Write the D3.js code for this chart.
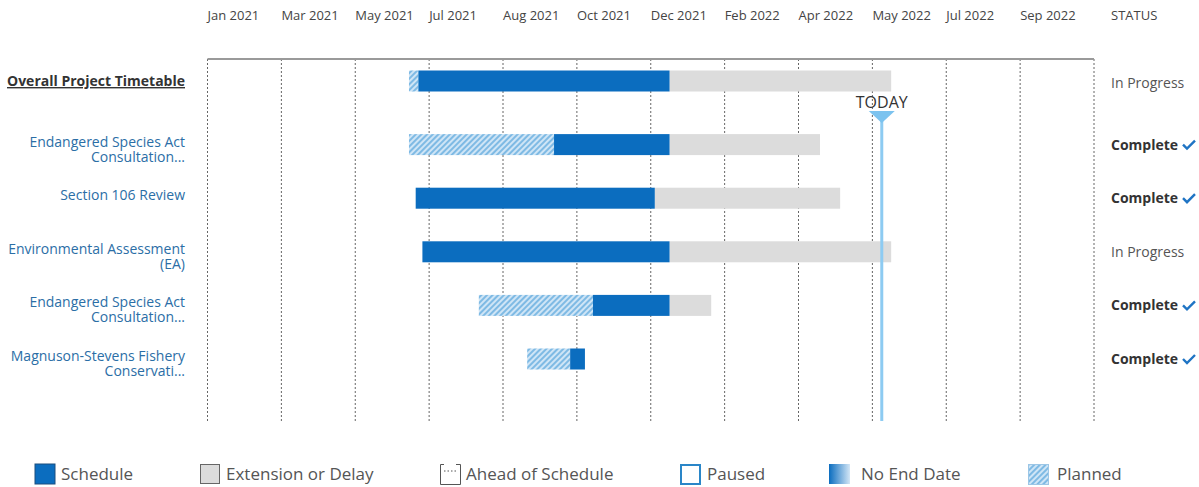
<!DOCTYPE html>
<html>
<head>
<meta charset="utf-8">
<script src="https://cdn.jsdelivr.net/npm/d3@7"></script>
<style>
  html, body { margin: 0; padding: 0; background: #fff; }
  svg { display: block; font-family: "Open Sans", "Noto Sans", sans-serif; }
</style>
</head>
<body>
<div id="gantt"></div>
<script>
// rows, top to bottom
const taskLabels = [
  ["Overall Project Timetable"],
  ["Endangered Species Act", "Consultation..."],
  ["Section 106 Review"],
  ["Environmental Assessment", "(EA)"],
  ["Endangered Species Act", "Consultation..."],
  ["Magnuson-Stevens Fishery", "Conservati..."]
];
const plannedStart  = ["2021-06-19", "2021-06-19", null, null, "2021-08-10", "2021-09-15"];
const scheduleStart = ["2021-06-26", "2021-10-05", "2021-06-24", "2021-06-29", "2021-11-03", "2021-10-17"];
const scheduleEnd   = ["2021-12-30", "2021-12-30", "2021-12-19", "2021-12-30", "2021-12-30", "2021-10-28"];
const delayEnd      = ["2022-06-13", "2022-04-21", "2022-05-06", "2022-06-13", "2022-01-30", null];
const statuses      = ["In Progress", "Complete", "Complete", "In Progress", "Complete", "Complete"];

// axis ticks (grid lines); the last one carries no label
const tickDates = ["2021-01-20", "2021-03-16", "2021-05-10", "2021-07-04", "2021-08-28", "2021-10-22",
  "2021-12-16", "2022-02-09", "2022-04-05", "2022-05-30", "2022-07-24", "2022-09-17", "2022-11-11"];
const todayDate = "2022-06-06";

const legendItems = ["Schedule", "Extension or Delay", "Ahead of Schedule", "Paused", "No End Date", "Planned"];

const W = 1199, H = 487;
const blue = "#0b6dbf", grey = "#dcdcdc";
const parse = d3.utcParse("%Y-%m-%d");
const fmt = d3.utcFormat("%b %Y");
const ticks = tickDates.map(parse);

const x = d3.scaleUtc()
  .domain([ticks[0], ticks[ticks.length - 1]])
  .range([207.5, 1094]);

const gridTop = 59, gridBottom = 421, barH = 21, overallLift = 10;
const y = d3.scalePoint()
  .domain(d3.range(taskLabels.length))
  .range([91, 359]);
const rowY = (i) => y(i) - (i === 0 ? overallLift : 0);

const svg = d3.select("#gantt").append("svg")
  .attr("width", W).attr("height", H);

const defs = svg.append("defs");
const hatch = defs.append("pattern")
  .attr("id", "hatch")
  .attr("patternUnits", "userSpaceOnUse")
  .attr("width", 4).attr("height", 4)
  .attr("patternTransform", "rotate(45)");
hatch.append("rect").attr("width", 4).attr("height", 4).attr("fill", "#cfe5f6");
hatch.append("line").attr("x1", 1).attr("y1", 0).attr("x2", 1).attr("y2", 4)
  .attr("stroke", "#5ca8dd").attr("stroke-width", 1.4);

const grad = defs.append("linearGradient").attr("id", "noend");
grad.append("stop").attr("offset", "0%").attr("stop-color", blue);
grad.append("stop").attr("offset", "100%").attr("stop-color", "#d3e6f6");

// header
svg.append("g").selectAll("text")
  .data(ticks.slice(0, -1))
  .join("text")
  .attr("x", (d) => x(d))
  .attr("y", 20)
  .attr("font-size", 13)
  .attr("fill", "#444")
  .text((d) => fmt(d));

svg.append("text")
  .attr("x", 1111).attr("y", 20)
  .attr("font-size", 13).attr("fill", "#444")
  .text("STATUS");

// grid
svg.append("g").selectAll("line")
  .data(ticks)
  .join("line")
  .attr("x1", (d) => x(d)).attr("x2", (d) => x(d))
  .attr("y1", gridTop).attr("y2", gridBottom)
  .attr("stroke", "#666")
  .attr("stroke-width", 1)
  .attr("stroke-dasharray", "2,2");

svg.append("line")
  .attr("x1", x.range()[0]).attr("x2", x.range()[1])
  .attr("y1", gridTop).attr("y2", gridTop)
  .attr("stroke", "#9a9a9a").attr("stroke-width", 2);

// bars
const rows = svg.append("g").selectAll("g")
  .data(taskLabels.map((lab, i) => i))
  .join("g");

rows.filter((i) => delayEnd[i])
  .append("rect")
  .attr("x", (i) => x(parse(scheduleEnd[i])))
  .attr("y", (i) => rowY(i) - barH / 2)
  .attr("width", (i) => x(parse(delayEnd[i])) - x(parse(scheduleEnd[i])))
  .attr("height", barH)
  .attr("fill", grey);

rows.filter((i) => plannedStart[i])
  .append("rect")
  .attr("x", (i) => x(parse(plannedStart[i])))
  .attr("y", (i) => rowY(i) - barH / 2)
  .attr("width", (i) => x(parse(scheduleStart[i])) - x(parse(plannedStart[i])))
  .attr("height", barH)
  .attr("fill", "url(#hatch)");

rows.append("rect")
  .attr("x", (i) => x(parse(scheduleStart[i])))
  .attr("y", (i) => rowY(i) - barH / 2)
  .attr("width", (i) => x(parse(scheduleEnd[i])) - x(parse(scheduleStart[i])))
  .attr("height", barH)
  .attr("fill", blue);

// task labels
rows.append("text")
  .attr("text-anchor", "end")
  .attr("font-size", 14)
  .attr("fill", (i) => (i === 0 ? "#333" : "#2b6ea6"))
  .attr("font-weight", (i) => (i === 0 ? 700 : 400))
  .attr("text-decoration", (i) => (i === 0 ? "underline" : null))
  .each(function (i) {
    const t = d3.select(this);
    taskLabels[i].forEach((line, k) => {
      t.append("tspan")
        .attr("x", 185)
        .attr("y", rowY(i) + (i === 0 ? 5 : 2) + k * 15)
        .text(line);
    });
  });

// status column
const status = rows.append("g")
  .attr("transform", (i) => `translate(1111,${rowY(i) + (i === 0 ? 7 : 5)})`);
status.append("text")
  .attr("font-size", 14)
  .attr("font-weight", (i) => (statuses[i] === "Complete" ? 700 : 400))
  .attr("fill", (i) => (statuses[i] === "Complete" ? "#333" : "#555"))
  .text((i) => statuses[i]);
status.filter((i) => statuses[i] === "Complete")
  .append("path")
  .attr("d", "M72,-5 L76,-1 L84,-9")
  .attr("fill", "none")
  .attr("stroke", "#1f74c4")
  .attr("stroke-width", 2.4);

// today marker
const tx = x(parse(todayDate));
svg.append("line")
  .attr("x1", tx).attr("x2", tx)
  .attr("y1", 112).attr("y2", gridBottom)
  .attr("stroke", "#8dcbf2").attr("stroke-width", 3);
svg.append("path")
  .attr("d", `M${tx - 13},111 L${tx + 13},111 L${tx},123 Z`)
  .attr("fill", "#7cc3ef");
svg.append("text")
  .attr("x", tx).attr("y", 108)
  .attr("text-anchor", "middle")
  .attr("font-size", 16)
  .attr("fill", "#333")
  .text("TODAY");

// legend
const legendX = [35, 200, 440, 680, 829, 1028];
const legendTextGap = [26, 26, 26, 27, 32, 29];
const lg = svg.append("g").selectAll("g")
  .data(legendItems)
  .join("g")
  .attr("transform", (d, i) => `translate(${legendX[i]},464)`);

lg.each(function (d, i) {
  const g = d3.select(this);
  if (i === 0) {
    g.append("rect").attr("width", 20).attr("height", 20).attr("fill", blue)
      .attr("stroke", "#1c4f7e").attr("stroke-width", 1);
  } else if (i === 1) {
    g.append("rect").attr("x", 0.5).attr("y", 0.5).attr("width", 19).attr("height", 19)
      .attr("fill", grey).attr("stroke", "#666").attr("stroke-width", 1);
  } else if (i === 2) {
    g.append("path").attr("d", "M0.5,0.5 H4 M16,0.5 H20.5 M0.5,0.5 V20.5 H20.5 V0.5")
      .attr("fill", "none").attr("stroke", "#555").attr("stroke-width", 1);
    g.append("line").attr("x1", 4).attr("x2", 17).attr("y1", 7).attr("y2", 7)
      .attr("stroke", "#555").attr("stroke-dasharray", "1.5,2");
  } else if (i === 3) {
    g.append("rect").attr("x", 1).attr("y", 1).attr("width", 19).attr("height", 19)
      .attr("fill", "#fff").attr("stroke", "#2a86c8").attr("stroke-width", 2);
  } else if (i === 4) {
    g.append("rect").attr("width", 21).attr("height", 20).attr("fill", "url(#noend)");
  } else {
    g.append("rect").attr("x", 0.5).attr("y", 0.5).attr("width", 20).attr("height", 20)
      .attr("fill", "url(#hatch)").attr("stroke", "#9cc6e6").attr("stroke-width", 1);
  }
  g.append("text")
    .attr("x", legendTextGap[i])
    .attr("y", 16)
    .attr("font-size", 17)
    .attr("fill", "#555")
    .text(d);
});
</script>
</body>
</html>
